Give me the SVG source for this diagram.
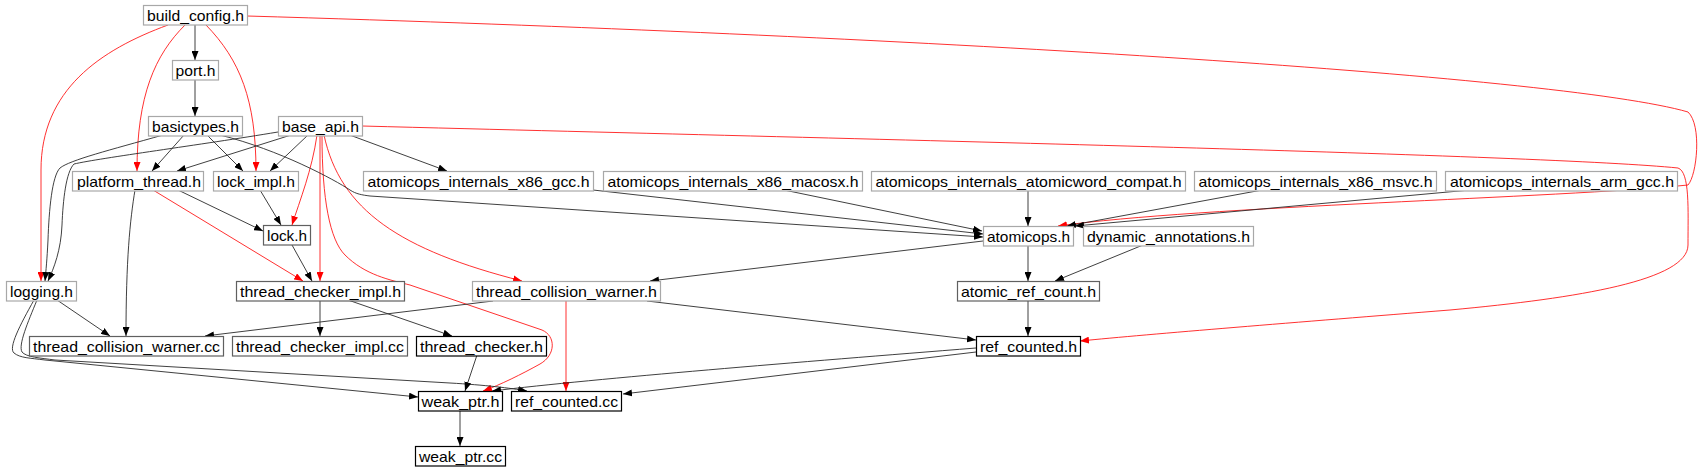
<svg xmlns="http://www.w3.org/2000/svg" width="1703" height="470" viewBox="0 0 1703 470">
<style>
.node rect{fill:#fff;stroke:#a8a8a8;stroke-width:1.2}
.node.m rect{stroke:#606060}
.node.d rect{stroke:#000}
.node text{font-family:"Liberation Sans",Arial,sans-serif;font-size:15px;fill:#000;text-anchor:middle}
.e{fill:none;stroke:#2a2a2a;stroke-width:0.9;marker-end:url(#ab)}
.r{fill:none;stroke:#ff1a1a;stroke-width:0.9;marker-end:url(#ar)}
</style>
<defs>
<marker id="ab" viewBox="0 0 10 10" refX="10" refY="5" markerWidth="9" markerHeight="7" markerUnits="userSpaceOnUse" orient="auto" preserveAspectRatio="none"><path d="M0,0 L10,5 L0,10 z" fill="#000"/></marker>
<marker id="ar" viewBox="0 0 10 10" refX="10" refY="5" markerWidth="9" markerHeight="7" markerUnits="userSpaceOnUse" orient="auto" preserveAspectRatio="none"><path d="M0,0 L10,5 L0,10 z" fill="#f00"/></marker>
</defs>
<rect width="1703" height="470" fill="#fff"/>
<g id="edges">
<path class="e" d="M195,25 L195,60"/>
<path class="e" d="M195,80 L195,116"/>
<path class="r" d="M185,25 C155,55 137,95 137,171"/>
<path class="r" d="M206,25 C240,60 256,100 256,171"/>
<path class="r" d="M168,25 C100,50 41,90 41,170 L41,281"/>
<path class="r" d="M247,16 C900,35 1560,75 1688,112 C1702,125 1697,175 1688,185 C1560,198 1200,206 1058,226"/>
<path class="r" d="M362,126 C900,140 1550,155 1678,168 C1690,172 1688,210 1688,245 C1688,280 1580,298 1450,310 C1300,322 1150,334 1080,341"/>
<path class="e" d="M184,135 L152,171"/>
<path class="e" d="M207,135 L243,171"/>
<path class="e" d="M163,135 C110,150 70,160 60,168 C52,176 49,210 48,240 C47,260 46,270 45,281"/>
<path class="e" d="M278,132 C200,145 100,158 74,164 C66,172 63,200 62,225 C61,250 54,268 48,281"/>
<path class="e" d="M291,135 L177,171"/>
<path class="e" d="M308,135 L270,171"/>
<path class="e" d="M347,134 L447,171"/>
<path class="r" d="M317,135 C312,170 300,200 292,225"/>
<path class="r" d="M320,135 L320,281"/>
<path class="r" d="M324,135 C340,210 400,250 522,281"/>
<path class="r" d="M322,135 C322,200 330,240 345,255 C365,275 390,280 410,285 L542,330 C556,336 556,355 540,364 C522,374 500,385 483,391"/>
<path class="e" d="M135,190 C130,220 126,260 126,336"/>
<path class="e" d="M178,190 L263,231"/>
<path class="r" d="M153,190 L303,281"/>
<path class="e" d="M260,190 L281,225"/>
<path class="e" d="M292,245 L312,281"/>
<path class="e" d="M220,135 C280,150 335,180 350,190 C356,194 362,195 370,196 L983,237"/>
<path class="e" d="M593,190 L983,234"/>
<path class="e" d="M784,190 L982,231"/>
<path class="e" d="M1028,190 L1028,226"/>
<path class="e" d="M1262,190 L1067,226"/>
<path class="e" d="M1470,190 L1075,226"/>
<path class="e" d="M983,241 L650,281"/>
<path class="e" d="M1028,245 L1028,281"/>
<path class="e" d="M1143,245 L1055,281"/>
<path class="e" d="M1028,301 L1028,336"/>
<path class="e" d="M647,301 L976,340"/>
<path class="e" d="M493,301 L205,336"/>
<path class="r" d="M566,301 L566,391"/>
<path class="e" d="M320,300 L320,336"/>
<path class="e" d="M348,300 L452,336"/>
<path class="e" d="M57,300 L110,336"/>
<path class="e" d="M34,300 C20,325 8,348 14,353 C20,358 30,358 45,360 L418,397"/>
<path class="e" d="M37,300 C28,322 18,345 22,352 C26,357 40,358 55,360 L450,383 C485,385 510,388 527,391"/>
<path class="e" d="M477,355 L465,391"/>
<path class="e" d="M976,348 C800,362 600,378 492,391"/>
<path class="e" d="M976,352 L623,394"/>
<path class="e" d="M460,410 L460,446"/>
</g>
<g id="build_config_h" class="node"><rect x="143.5" y="5.5" width="104" height="19.5"/><text x="195.5" y="21" textLength="97" lengthAdjust="spacingAndGlyphs">build_config.h</text></g>
<g id="port_h" class="node"><rect x="172.5" y="60.5" width="46" height="19.5"/><text x="195.5" y="76" textLength="40" lengthAdjust="spacingAndGlyphs">port.h</text></g>
<g id="basictypes_h" class="node"><rect x="148.5" y="116.5" width="94" height="19.5"/><text x="195.5" y="132" textLength="87" lengthAdjust="spacingAndGlyphs">basictypes.h</text></g>
<g id="base_api_h" class="node"><rect x="278.5" y="116.5" width="84" height="19.5"/><text x="320.5" y="132" textLength="77" lengthAdjust="spacingAndGlyphs">base_api.h</text></g>
<g id="platform_thread_h" class="node"><rect x="72.5" y="171.5" width="131" height="19.5"/><text x="139" y="187" textLength="124" lengthAdjust="spacingAndGlyphs">platform_thread.h</text></g>
<g id="lock_impl_h" class="node"><rect x="213.5" y="171.5" width="85" height="19.5"/><text x="256" y="187" textLength="78" lengthAdjust="spacingAndGlyphs">lock_impl.h</text></g>
<g id="atomicops_internals_x86_gcc_h" class="node"><rect x="363.5" y="171.5" width="230" height="19.5"/><text x="478.5" y="187" textLength="222" lengthAdjust="spacingAndGlyphs">atomicops_internals_x86_gcc.h</text></g>
<g id="atomicops_internals_x86_macosx_h" class="node"><rect x="603.5" y="171.5" width="259" height="19.5"/><text x="733" y="187" textLength="251" lengthAdjust="spacingAndGlyphs">atomicops_internals_x86_macosx.h</text></g>
<g id="atomicops_internals_atomicword_compat_h" class="node"><rect x="871.5" y="171.5" width="314" height="19.5"/><text x="1028.5" y="187" textLength="306" lengthAdjust="spacingAndGlyphs">atomicops_internals_atomicword_compat.h</text></g>
<g id="atomicops_internals_x86_msvc_h" class="node"><rect x="1194.5" y="171.5" width="242" height="19.5"/><text x="1315.5" y="187" textLength="234" lengthAdjust="spacingAndGlyphs">atomicops_internals_x86_msvc.h</text></g>
<g id="atomicops_internals_arm_gcc_h" class="node"><rect x="1445.5" y="171.5" width="232" height="19.5"/><text x="1562" y="187" textLength="224" lengthAdjust="spacingAndGlyphs">atomicops_internals_arm_gcc.h</text></g>
<g id="lock_h" class="node m"><rect x="263.5" y="225.5" width="47" height="19.5"/><text x="287" y="241" textLength="40" lengthAdjust="spacingAndGlyphs">lock.h</text></g>
<g id="atomicops_h" class="node"><rect x="983.5" y="226.5" width="90" height="19.5"/><text x="1028.5" y="242" textLength="83" lengthAdjust="spacingAndGlyphs">atomicops.h</text></g>
<g id="dynamic_annotations_h" class="node"><rect x="1083.5" y="226.5" width="170" height="19.5"/><text x="1168.5" y="242" textLength="163" lengthAdjust="spacingAndGlyphs">dynamic_annotations.h</text></g>
<g id="logging_h" class="node"><rect x="6.5" y="281.5" width="70" height="19.5"/><text x="41.5" y="297" textLength="63" lengthAdjust="spacingAndGlyphs">logging.h</text></g>
<g id="thread_checker_impl_h" class="node m"><rect x="236.5" y="281.5" width="168" height="19.5"/><text x="320.5" y="297" textLength="161" lengthAdjust="spacingAndGlyphs">thread_checker_impl.h</text></g>
<g id="thread_collision_warner_h" class="node"><rect x="472.5" y="281.5" width="188" height="19.5"/><text x="566.5" y="297" textLength="181" lengthAdjust="spacingAndGlyphs">thread_collision_warner.h</text></g>
<g id="atomic_ref_count_h" class="node m"><rect x="957.5" y="281.5" width="142" height="19.5"/><text x="1028.5" y="297" textLength="135" lengthAdjust="spacingAndGlyphs">atomic_ref_count.h</text></g>
<g id="thread_collision_warner_cc" class="node m"><rect x="29.5" y="336.5" width="194" height="19.5"/><text x="126.5" y="352" textLength="187" lengthAdjust="spacingAndGlyphs">thread_collision_warner.cc</text></g>
<g id="thread_checker_impl_cc" class="node m"><rect x="232.5" y="336.5" width="175" height="19.5"/><text x="320" y="352" textLength="168" lengthAdjust="spacingAndGlyphs">thread_checker_impl.cc</text></g>
<g id="thread_checker_h" class="node d"><rect x="416.5" y="336.5" width="130" height="19.5"/><text x="481.5" y="352" textLength="123" lengthAdjust="spacingAndGlyphs">thread_checker.h</text></g>
<g id="ref_counted_h" class="node d"><rect x="976.5" y="336.5" width="104" height="19.5"/><text x="1028.5" y="352" textLength="97" lengthAdjust="spacingAndGlyphs">ref_counted.h</text></g>
<g id="weak_ptr_h" class="node d"><rect x="418.5" y="391.5" width="84" height="19.5"/><text x="460.5" y="407" textLength="78" lengthAdjust="spacingAndGlyphs">weak_ptr.h</text></g>
<g id="ref_counted_cc" class="node d"><rect x="511.5" y="391.5" width="110" height="19.5"/><text x="566.5" y="407" textLength="103" lengthAdjust="spacingAndGlyphs">ref_counted.cc</text></g>
<g id="weak_ptr_cc" class="node d"><rect x="415.5" y="446.5" width="90" height="19.5"/><text x="460.5" y="462" textLength="83" lengthAdjust="spacingAndGlyphs">weak_ptr.cc</text></g>
</svg>
